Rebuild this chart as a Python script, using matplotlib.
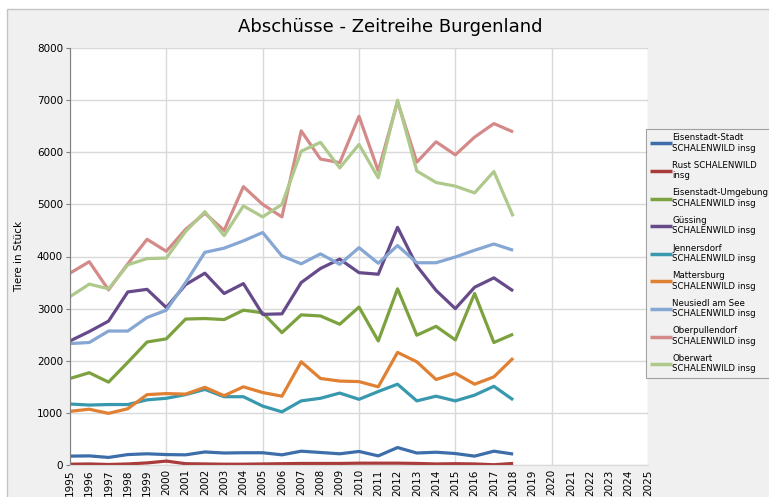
import numpy as np
import matplotlib
matplotlib.use('Agg')
import matplotlib.pyplot as plt
from matplotlib.patches import Rectangle

years = list(range(1995, 2019))

eisenstadt_stadt = [170, 175, 145, 200, 215, 200, 195, 250, 230, 235, 235, 195,
                    265, 240, 215, 260, 175, 335, 230, 245, 220, 170, 265, 210]
rust = [15, 20, 10, 20, 40, 75, 25, 20, 15, 15, 20, 25,
        30, 30, 30, 35, 35, 35, 30, 20, 25, 20, 5, 30]
eisenstadt_umg = [1660, 1770, 1590, 1970, 2360, 2420, 2800, 2810, 2790, 2970, 2920, 2540,
                  2880, 2860, 2700, 3030, 2380, 3380, 2490, 2660, 2400, 3290, 2350, 2510]
guessing = [2380, 2560, 2760, 3320, 3370, 3020, 3460, 3680, 3290, 3480, 2890, 2900,
            3500, 3770, 3950, 3690, 3660, 4560, 3820, 3350, 3000, 3410, 3590, 3340]
jennersdorf = [1170, 1150, 1160, 1160, 1250, 1280, 1350, 1450, 1310, 1310, 1130, 1020,
               1230, 1280, 1380, 1260, 1410, 1550, 1230, 1320, 1230, 1340, 1510, 1250]
mattersburg = [1030, 1070, 990, 1080, 1350, 1370, 1360, 1490, 1330, 1500, 1390, 1320,
               1980, 1660, 1610, 1600, 1500, 2160, 1980, 1640, 1760, 1550, 1690, 2050]
neusiedl = [2330, 2350, 2570, 2570, 2830, 2970, 3500, 4080, 4160, 4300, 4460, 4010,
            3860, 4050, 3850, 4170, 3870, 4210, 3880, 3880, 3990, 4120, 4240, 4120]
oberpullendorf = [3680, 3900, 3360, 3860, 4330, 4100, 4520, 4830, 4500, 5340, 5000, 4760,
                  6410, 5870, 5800, 6690, 5640, 6970, 5810, 6200, 5950, 6290, 6550, 6390]
oberwart = [3230, 3470, 3380, 3840, 3960, 3970, 4480, 4860, 4400, 4970, 4760, 5000,
            6020, 6190, 5700, 6150, 5510, 7000, 5640, 5420, 5350, 5220, 5630, 4770]

series = [
    ("Eisenstadt-Stadt\nSCHALENWILD insg", eisenstadt_stadt, "#3d6eaa"),
    ("Rust SCHALENWILD\ninsg", rust, "#a93b3b"),
    ("Eisenstadt-Umgebung\nSCHALENWILD insg", eisenstadt_umg, "#7ca23f"),
    ("Güssing\nSCHALENWILD insg", guessing, "#664a8a"),
    ("Jennersdorf\nSCHALENWILD insg", jennersdorf, "#3898ae"),
    ("Mattersburg\nSCHALENWILD insg", mattersburg, "#e08033"),
    ("Neusiedl am See\nSCHALENWILD insg", neusiedl, "#86a6d3"),
    ("Oberpullendorf\nSCHALENWILD insg", oberpullendorf, "#d38a89"),
    ("Oberwart\nSCHALENWILD insg", oberwart, "#aec98b"),
]

fig = plt.figure(figsize=(7.69, 4.97), dpi=100, facecolor='white')
# grey chart area with thin frame
fig.patches.append(Rectangle((7 / 769, -0.01), 1.0, 1 - 9 / 497 + 0.01,
                             transform=fig.transFigure, facecolor='#f0f0f0',
                             edgecolor='#c4c4c4', linewidth=1, zorder=-10))

ax = fig.add_axes([70 / 769, 1 - 465 / 497, 578 / 769, 417 / 497])
ax.set_zorder(1)
ax.set_facecolor('white')

for label, vals, col in series:
    ax.plot(years, vals, color=col, lw=2.3, label=label, solid_capstyle='butt')

ax.set_xlim(1995, 2025)
ax.set_ylim(0, 8000)
ax.set_yticks(range(0, 8001, 1000))
ax.set_xticks(range(1995, 2026))
ax.set_xticklabels([str(y) for y in range(1995, 2026)], rotation=90, fontsize=7.5)
ax.tick_params(axis='y', labelsize=7.5, length=3, color='#808080', pad=2)
ax.tick_params(axis='x', length=0, pad=3)

ax.grid(axis='y', color='#d9d9d9', lw=1)
for x in range(1995, 2026, 5):
    ax.axvline(x, color='#d9d9d9', lw=1, zorder=0)
ax.set_axisbelow(True)

for s in ['top', 'right']:
    ax.spines[s].set_visible(False)
ax.spines['left'].set_color('#808080')
ax.spines['bottom'].set_color('#d9d9d9')

ax.set_ylabel('Tiere in Stück', fontsize=7.5, labelpad=9)
fig.text(390 / 769, 1 - 27 / 497, 'Abschüsse - Zeitreihe Burgenland',
         ha='center', va='center', fontsize=13)

leg = fig.legend(loc='upper left', bbox_to_anchor=(646 / 769, 1 - 129 / 497),
                 fontsize=6.2, frameon=True, fancybox=False, handlelength=2.5,
                 handletextpad=0.05, labelspacing=0.95, borderpad=0.5,
                 borderaxespad=0)
leg.set_zorder(2)
leg.get_frame().set_facecolor('#f2f2f2')
leg.get_frame().set_edgecolor('#8c8c8c')
leg.get_frame().set_linewidth(0.8)
for line in leg.get_lines():
    line.set_linewidth(2.5)

fig.savefig('out.png', dpi=100, facecolor=fig.get_facecolor())
